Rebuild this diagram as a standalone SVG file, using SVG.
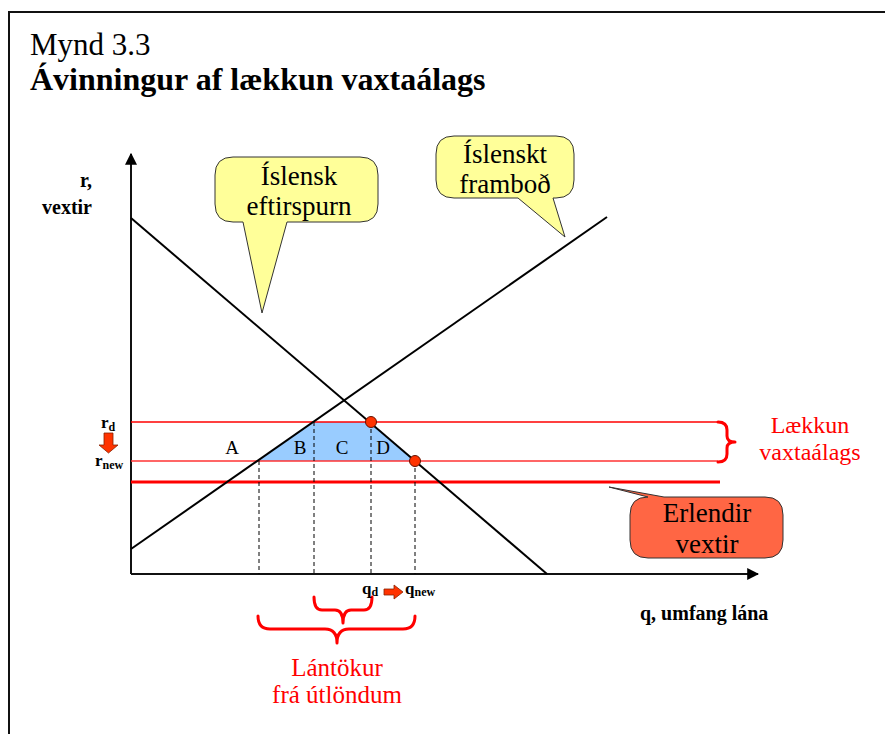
<svg xmlns="http://www.w3.org/2000/svg" width="885" height="734" viewBox="0 0 885 734">
<style>
text{font-family:'Liberation Serif','Times New Roman',Times,serif;fill:#000}
.b{font-weight:bold}
.red{fill:#ff0000}
.m{text-anchor:middle}
.curve{stroke:#000;stroke-width:2;fill:none}
.dash{stroke:#000;stroke-width:1;stroke-dasharray:4,3;fill:none}
.call{stroke:#333;stroke-width:1}
.brace{stroke:#ff0000;stroke-width:3;fill:none;stroke-linecap:round;stroke-linejoin:round}
.dot{fill:#ff3300;stroke:#661100;stroke-width:1}
.blk{fill:#ff3300;stroke:#882200;stroke-width:0.8}
</style>
<defs>
<marker id="ah" viewBox="0 0 10 10" refX="9" refY="5" markerWidth="6" markerHeight="6" markerUnits="strokeWidth" orient="auto"><path d="M0,0 L10,5 L0,10 Z" fill="#000"/></marker>
</defs>
<rect width="885" height="734" fill="#fff"/>
<path d="M9,734 V12 H885" fill="none" stroke="#111" stroke-width="2"/>
<g id="title">
<text x="30" y="55" font-size="31">Mynd 3.3</text>
<text class="b" x="30" y="90" font-size="32">Ávinningur af lækkun vaxtaálags</text>
</g>

<g id="area">
<path d="M257,461 L313,422 L369,422 L415,461 Z" fill="#99ccff"/>
</g>

<g id="connectors">
<line x1="131" y1="574" x2="131" y2="154" stroke="#111" stroke-width="2" marker-end="url(#ah)"/>
<line x1="131" y1="574" x2="758" y2="574" stroke="#111" stroke-width="2" marker-end="url(#ah)"/>
<line x1="131" y1="422" x2="718" y2="422" stroke="#ff0000" stroke-width="1.5"/>
<line x1="131" y1="461" x2="718" y2="461" stroke="#ff3333" stroke-width="1.5"/>
<line x1="131" y1="482" x2="720" y2="482" stroke="#ff0000" stroke-width="3"/>
<line class="curve" x1="131" y1="218" x2="547" y2="574"/>
<line class="curve" x1="131" y1="549" x2="607" y2="217"/>
<line class="dash" x1="259" y1="461" x2="259" y2="574"/>
<line class="dash" x1="314" y1="422" x2="314" y2="574"/>
<line class="dash" x1="371" y1="422" x2="371" y2="574"/>
<line class="dash" x1="415" y1="461" x2="415" y2="574"/>
<path class="brace" d="M718,422 Q727,422 727,430 L727,436 Q727,442 735,442 Q727,442 727,448 L727,454 Q727,462 718,462"/>
<path class="brace" d="M314,597 Q314,610 322,610 L335,610 Q343,610 343,623 Q343,610 351,610 L364,610 Q372,610 372,597"/>
<path class="brace" d="M258,616 Q258,629 270,629 L325,629 Q337,629 337,643 Q337,629 349,629 L403,629 Q415,629 415,616"/>
</g>

<g id="dots">
<circle class="dot" cx="371" cy="422" r="5.5"/>
<circle class="dot" cx="415" cy="461" r="5.5"/>
</g>

<g id="labels">
<text class="m" x="232" y="454" font-size="19">A</text>
<text class="m" x="300" y="454" font-size="19">B</text>
<text class="m" x="342" y="454" font-size="19">C</text>
<text class="m" x="383" y="454" font-size="19">D</text>
</g>

<g id="axis-labels">
<text class="b" x="92" y="187" font-size="20" text-anchor="end">r,</text>
<text class="b" x="92" y="214" font-size="20" text-anchor="end">vextir</text>
<text class="b" x="640" y="620" font-size="20">q, umfang lána</text>
<text class="b" x="101" y="428" font-size="17">r<tspan font-size="12" dy="3">d</tspan></text>
<path class="blk" d="M104,433 H113 V445 H118 L108.5,453 L99,445 H104 Z"/>
<text class="b" x="95" y="466" font-size="17">r<tspan font-size="12" dy="3">new</tspan></text>
<text class="b" x="362" y="594" font-size="17">q<tspan font-size="12" dy="2">d</tspan></text>
<path class="blk" d="M384,589 H394 V585 L403,592 L394,599 V595 H384 Z"/>
<text class="b" x="405" y="594" font-size="17">q<tspan font-size="12" dy="2">new</tspan></text>
</g>

<g id="callout-demand">
<path class="call" fill="#ffff99" d="M233,157 H360 Q378,157 378,175 V204 Q378,222 360,222 H287 L262,313 L243,222 H233 Q215,222 215,204 V175 Q215,157 233,157 Z"/>
<text class="m" x="299" y="185" font-size="27">Íslensk</text>
<text class="m" x="299" y="215" font-size="27">eftirspurn</text>
</g>

<g id="callout-supply">
<path class="call" fill="#ffff99" d="M454,136 H556 Q574,136 574,154 V180 Q574,198 556,198 H553 L565,237 L518,198 H454 Q436,198 436,180 V154 Q436,136 454,136 Z"/>
<text class="m" x="505" y="163" font-size="27">Íslenskt</text>
<text class="m" x="505" y="193" font-size="27">framboð</text>
</g>

<g id="callout-foreign">
<path class="call" fill="#ff6644" d="M648,497 L609,487 L664,497 H765 Q783,497 783,515 V540 Q783,558 765,558 H648 Q630,558 630,540 V515 Q630,497 648,497 Z"/>
<text class="m" x="707" y="522" font-size="27">Erlendir</text>
<text class="m" x="707" y="553" font-size="27">vextir</text>
</g>

<g id="label-spread">
<text class="red m" x="810" y="433" font-size="24">Lækkun</text>
<text class="red m" x="810" y="460" font-size="24">vaxtaálags</text>
</g>

<g id="label-borrowing">
<text class="red m" x="337" y="676" font-size="25">Lántökur</text>
<text class="red m" x="337" y="703" font-size="25">frá útlöndum</text>
</g>
</svg>
